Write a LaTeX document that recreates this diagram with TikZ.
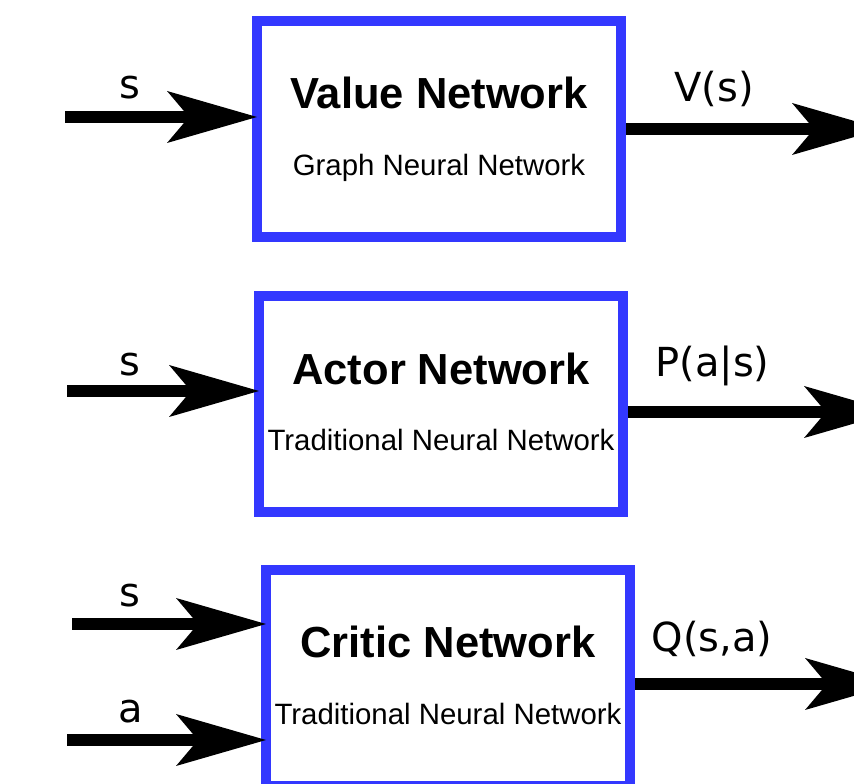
\documentclass[tikz,border=0pt]{standalone}
\usepackage{fontspec}
\setmainfont{Liberation Sans}
\newfontfamily\labelfont{DejaVu Sans}
\usetikzlibrary{arrows.meta,positioning,calc}
\definecolor{netblue}{RGB}{51,56,255}
\tikzset{% boxes, texts and arrows
	netbox/.style={draw=netblue, line width=10pt, fill=white, minimum width=364pt, minimum height=216pt, inner sep=0pt, outer sep=0pt},
	nettitle/.style={anchor=base, inner sep=0pt, font=\fontsize{43.5}{50}\selectfont\bfseries},
	netsub/.style={anchor=base, inner sep=0pt, font=\fontsize{29.4}{34}\selectfont},
	sig/.style={anchor=base, inner sep=0pt, font=\labelfont\fontsize{40}{46}\selectfont},
	flow/.style={line width=11.5pt, -{Stealth[length=90pt, width=52pt, inset=22pt, line width=0pt]}}
}

\begin{document}
\begin{tikzpicture}[x=1pt, y=1pt]
				\useasboundingbox (0,0) rectangle (854,784);
				% the three networks
				\node[netbox] (value) at (439,655) {};
				\node[netbox] (actor) at (441,379.5) {};
				\node[netbox] (critic) at (448,106) {};
				\node[nettitle] (value title) at ([yshift=20pt]value.center) {Value Network};
				\node[netsub] (value sub) at ([yshift=-46.5pt]value.center) {Graph Neural Network};
				\node[nettitle] (actor title) at ([yshift=20pt]actor.center) {Actor Network};
				\node[netsub] (actor sub) at ([yshift=-46.5pt]actor.center) {Traditional Neural Network};
				\node[nettitle] (critic title) at ([yshift=20pt]critic.center) {Critic Network};
				\node[netsub] (critic sub) at ([yshift=-46.5pt]critic.center) {Traditional Neural Network};
				
				% free ends of the arrows
				\coordinate (value in) at (65,667);
				\coordinate (actor in) at (67,393);
				\coordinate (critic s in) at (72,160);
				\coordinate (critic a in) at (67,44);
				\coordinate (value out) at (882,655);
				\coordinate (actor out) at (894,372);
				\coordinate (critic out) at (895,100);
				
				\draw[flow] (value in) -- node[sig, pos=0.34, yshift=18pt] {s} (value in -| value.west);
				\draw[flow] (actor in) -- node[sig, pos=0.33, yshift=15pt] {s} (actor in -| actor.west);
				\draw[flow] (critic s in) -- node[sig, pos=0.30, yshift=17pt] {s} (critic s in -| critic.west);
				\draw[flow] (critic a in) -- node[sig, pos=0.32, yshift=17pt] {a} (critic a in -| critic.west);
				
				\draw[flow, shorten <=5pt] (value.east) -- node[sig, pos=0.356, yshift=27pt] {V(s)} (value out);
				\draw[flow, shorten <=5pt] (actor out -| actor.east) -- node[sig, pos=0.33, yshift=35pt] {P(a|s)} (actor out);
				\draw[flow, shorten <=5pt] (critic out -| critic.east) -- node[sig, pos=0.31, yshift=32pt] {Q(s,a)} (critic out);
\end{tikzpicture}
\end{document}
